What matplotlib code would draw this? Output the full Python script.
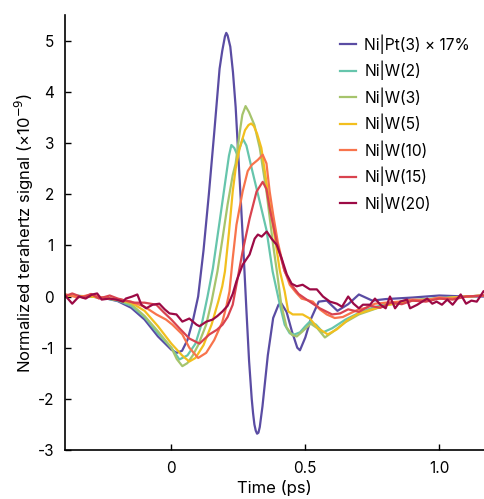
import matplotlib
import matplotlib.pyplot as plt

matplotlib.use('Agg')
plt.rcParams['font.family'] = ['Inter', 'DejaVu Sans']
plt.rcParams['axes.unicode_minus'] = False

labels = ['Ni|Pt(3) × 17%', 'Ni|W(2)', 'Ni|W(3)', 'Ni|W(5)', 'Ni|W(10)', 'Ni|W(15)', 'Ni|W(20)']
colors = ['#5a4ca3', '#66c5ac', '#a6c46c', '#f2bf1e', '#f8744c', '#d9434f', '#9c0a45']

x_pt = [-0.40, -0.30, -0.25, -0.20, -0.15, -0.10, -0.05, 0.00, 0.02, 0.04, 0.06, 0.08, 0.10, 0.12, 0.14,
        0.16, 0.18, 0.19, 0.20, 0.205, 0.21, 0.22, 0.23, 0.24, 0.25, 0.26, 0.27, 0.28, 0.29, 0.30, 0.305,
        0.31, 0.315, 0.32, 0.325, 0.33, 0.34, 0.35, 0.36, 0.38, 0.40, 0.41, 0.43, 0.45, 0.47, 0.48, 0.50,
        0.52, 0.55, 0.58, 0.62, 0.66, 0.70, 0.75, 0.80, 0.90, 1.00, 1.10, 1.17]
y_pt = [0.02, 0.00, -0.03, -0.09, -0.22, -0.45, -0.78, -1.04, -1.10, -1.06, -0.85, -0.48, 0.00, 0.90, 2.00,
        3.20, 4.45, 4.80, 5.08, 5.15, 5.10, 4.88, 4.38, 3.70, 2.75, 1.80, 0.80, -0.25, -1.25, -2.00, -2.28,
        -2.50, -2.62, -2.68, -2.66, -2.55, -2.15, -1.65, -1.15, -0.42, -0.16, -0.13, -0.30, -0.68, -1.00,
        -1.05, -0.80, -0.45, -0.10, -0.08, -0.28, -0.15, 0.04, -0.08, -0.05, -0.02, 0.02, 0.00, 0.00]

x_w2 = [-0.40, -0.30, -0.25, -0.20, -0.15, -0.10, -0.05, 0.00, 0.03, 0.06, 0.09, 0.115, 0.135, 0.155, 0.18,
        0.20, 0.215, 0.224, 0.235, 0.245, 0.255, 0.267, 0.28, 0.30, 0.33, 0.355, 0.378, 0.405, 0.423, 0.442,
        0.46, 0.48, 0.50, 0.517, 0.54, 0.566, 0.60, 0.65, 0.70, 0.75, 0.80, 0.90, 1.00, 1.10, 1.17]
y_w2 = [0.03, 0.00, -0.03, -0.08, -0.18, -0.40, -0.72, -1.00, -1.23, -1.15, -0.92, -0.50, 0.00, 0.55, 1.46,
        2.20, 2.75, 2.96, 2.90, 2.78, 2.90, 3.08, 2.95, 2.50, 1.85, 1.30, 0.49, -0.16, -0.55, -0.72,
        -0.74, -0.70, -0.58, -0.49, -0.55, -0.70, -0.62, -0.45, -0.32, -0.22, -0.15, -0.07, -0.03, 0.00, 0.02]

x_w3 = [-0.40, -0.30, -0.25, -0.20, -0.15, -0.10, -0.05, 0.00, 0.02, 0.041, 0.06, 0.08, 0.10, 0.13, 0.15,
        0.172, 0.19, 0.21, 0.229, 0.24, 0.255, 0.265, 0.277, 0.29, 0.31, 0.33, 0.355, 0.38, 0.395, 0.41,
        0.43, 0.45, 0.468, 0.49, 0.52, 0.545, 0.573, 0.60, 0.65, 0.70, 0.80, 0.90, 1.00, 1.10, 1.17]
y_w3 = [0.02, 0.00, -0.03, -0.07, -0.15, -0.38, -0.68, -1.00, -1.22, -1.36, -1.30, -1.15, -0.95, -0.55, -0.10,
        0.49, 1.10, 1.80, 2.37, 2.60, 3.20, 3.55, 3.72, 3.60, 3.35, 2.90, 2.05, 1.00, 0.45, -0.15,
        -0.60, -0.75, -0.78, -0.68, -0.53, -0.62, -0.80, -0.70, -0.50, -0.35, -0.17, -0.08, -0.04, 0.00, 0.02]

x_w5 = [-0.40, -0.30, -0.20, -0.15, -0.10, -0.05, 0.00, 0.04, 0.067, 0.09, 0.12, 0.15, 0.175, 0.19, 0.20,
        0.215, 0.229, 0.24, 0.255, 0.275, 0.288, 0.298, 0.308, 0.32, 0.336, 0.36, 0.385, 0.405, 0.423, 0.436,
        0.453, 0.49, 0.517, 0.547, 0.584, 0.618, 0.66, 0.70, 0.80, 0.90, 1.00, 1.10, 1.17]
y_w5 = [0.02, 0.00, -0.06, -0.12, -0.28, -0.58, -0.92, -1.15, -1.27, -1.20, -0.95, -0.55, -0.10, 0.20, 0.49,
        1.25, 2.05, 2.50, 2.90, 3.25, 3.35, 3.38, 3.33, 3.18, 2.90, 2.05, 1.20, 0.50, 0.10, -0.29,
        -0.35, -0.35, -0.43, -0.62, -0.74, -0.64, -0.45, -0.33, -0.17, -0.08, -0.04, 0.00, 0.02]

x_w10 = [-0.40, -0.35, -0.30, -0.25, -0.20, -0.15, -0.10, -0.056, -0.02, 0.004, 0.041, 0.067, 0.10, 0.13,
         0.16, 0.19, 0.205, 0.217, 0.229, 0.243, 0.266, 0.285, 0.30, 0.323, 0.341, 0.355, 0.367, 0.38, 0.397,
         0.42, 0.442, 0.465, 0.486, 0.528, 0.554, 0.58, 0.61, 0.64, 0.667, 0.70, 0.73, 0.76, 0.80, 0.85,
         0.90, 0.95, 1.00, 1.05, 1.10, 1.17]
y_w10 = [0.05, -0.02, 0.04, -0.03, -0.05, -0.10, -0.20, -0.35, -0.45, -0.55, -0.74, -1.00, -1.20, -1.10,
         -0.85, -0.50, -0.20, 0.10, 0.74, 1.40, 2.05, 2.45, 2.57, 2.67, 2.77, 2.60, 2.05, 1.60, 1.07,
         0.55, 0.23, 0.08, -0.04, -0.10, -0.25, -0.35, -0.42, -0.40, -0.33, -0.25, -0.22, -0.14, -0.12, -0.10,
         -0.06, -0.07, -0.02, -0.04, 0.00, 0.02]

x_w15 = [-0.40, -0.37, -0.33, -0.30, -0.27, -0.23, -0.20, -0.17, -0.14, -0.10, -0.056, -0.03, 0.00, 0.03,
         0.067, 0.105, 0.142, 0.17, 0.191, 0.21, 0.229, 0.243, 0.266, 0.292, 0.318, 0.341, 0.355, 0.367,
         0.393, 0.423, 0.449, 0.475, 0.505, 0.554, 0.60, 0.63, 0.66, 0.70, 0.74, 0.78, 0.82, 0.86, 0.90,
         0.95, 1.00, 1.05, 1.10, 1.17]
y_w15 = [0.00, 0.06, -0.02, 0.05, -0.04, 0.02, -0.04, -0.08, -0.12, -0.12, -0.16, -0.30, -0.45, -0.62,
         -0.82, -0.92, -0.74, -0.65, -0.55, -0.40, -0.16, 0.23, 0.88, 1.52, 2.05, 2.24, 2.10, 1.72,
         1.07, 0.49, 0.22, 0.05, -0.06, -0.23, -0.35, -0.33, -0.25, -0.30, -0.18, -0.22, -0.12, -0.15, -0.08,
         -0.10, -0.04, -0.06, 0.00, 0.02]

x_w20 = [-0.40, -0.393, -0.37, -0.345, -0.32, -0.295, -0.277, -0.26, -0.232, -0.206, -0.18, -0.17, -0.146,
         -0.127, -0.112, -0.094, -0.07, -0.045, -0.025, -0.007, 0.019, 0.041, 0.067, 0.094, 0.105, 0.131,
         0.154, 0.172, 0.191, 0.21, 0.229, 0.243, 0.266, 0.292, 0.311, 0.323, 0.337, 0.356, 0.374, 0.393,
         0.412, 0.431, 0.449, 0.468, 0.49, 0.517, 0.543, 0.566, 0.592, 0.618, 0.637, 0.66, 0.68, 0.70,
         0.715, 0.742, 0.76, 0.78, 0.80, 0.816, 0.835, 0.854, 0.88, 0.891, 0.918, 0.936, 0.955, 0.974,
         0.99, 1.01, 1.03, 1.05, 1.08, 1.10, 1.12, 1.14, 1.165]
y_w20 = [0.04, 0.00, -0.14, 0.00, -0.04, 0.04, 0.06, -0.06, -0.04, -0.06, -0.10, -0.04, 0.00,
         0.04, -0.16, -0.23, -0.16, -0.14, -0.25, -0.33, -0.35, -0.49, -0.43, -0.55, -0.58, -0.49,
         -0.45, -0.38, -0.29, -0.18, 0.05, 0.30, 0.62, 0.82, 1.13, 1.21, 1.17, 1.27, 1.13, 1.01,
         0.74, 0.43, 0.25, 0.20, 0.23, 0.14, 0.14, 0.00, -0.10, -0.14, -0.20, 0.00, -0.14, -0.23,
         -0.16, -0.16, -0.04, -0.16, -0.23, 0.00, -0.23, -0.10, -0.06, -0.23, -0.16, -0.10, -0.04, -0.14,
         -0.10, -0.16, -0.06, -0.16, 0.04, -0.14, -0.08, -0.10, 0.10]

series = [(x_pt, y_pt), (x_w2, y_w2), (x_w3, y_w3), (x_w5, y_w5),
          (x_w10, y_w10), (x_w15, y_w15), (x_w20, y_w20)]

fig = plt.figure(figsize=(4.84, 4.99), dpi=100)
ax = fig.add_axes([0.1343, 0.098, 0.8657, 0.872])

for (xs, ys), lab, col in zip(series, labels, colors):
    ax.plot(xs, ys, color=col, lw=1.6, label=lab, solid_joinstyle='round')

ax.set_xlim(-0.397, 1.167)
ax.set_ylim(-3, 5.5)
ax.set_xticks([0, 0.5, 1.0])
ax.set_xticklabels(['0', '0.5', '1.0'])
ax.set_yticks(range(-3, 6))
ax.tick_params(direction='in', length=4, width=1, labelsize=11, color='black')
ax.tick_params(axis='x', pad=8)
ax.tick_params(axis='y', pad=8)
for s in ['top', 'right']:
    ax.spines[s].set_visible(False)
for s in ['left', 'bottom']:
    ax.spines[s].set_linewidth(1.2)

ax.set_xlabel('Time (ps)', fontsize=12, labelpad=3)
ax.set_ylabel('Normalized terahertz signal (×10$^{-9}$)', fontsize=12, labelpad=1)

ax.legend(loc='upper left', bbox_to_anchor=(0.642, 0.97), frameon=False, fontsize=11.2,
          handlelength=1.0, handletextpad=0.55, labelspacing=0.45, borderaxespad=0)

fig.savefig('out.png', dpi=100)
